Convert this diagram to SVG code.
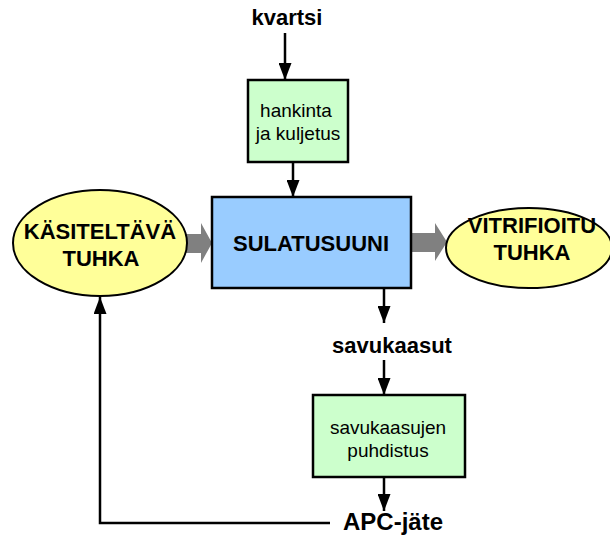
<svg xmlns="http://www.w3.org/2000/svg" width="610" height="535" viewBox="0 0 610 535">
  <style>
    .bold { font-family: "Liberation Sans", Arial, sans-serif; font-weight: bold; fill: #000; text-anchor: middle; }
    .reg { font-family: "Liberation Sans", Arial, sans-serif; font-size: 19px; fill: #000; text-anchor: middle; }
    .ell { fill: #FFFF99; stroke: #000; stroke-width: 2; }
    .green { fill: #CCFFCC; stroke: #000; stroke-width: 2.5; }
    .blue { fill: #99CCFF; stroke: #000; stroke-width: 2.5; }
    .flow { fill: none; stroke: #000; stroke-width: 2.5; marker-end: url(#head); }
    .big { fill: #808080; }
  </style>
  <defs>
    <marker id="head" markerUnits="userSpaceOnUse" viewBox="0 0 17 13" refX="17" refY="6.5" markerWidth="17" markerHeight="13" orient="auto">
      <path d="M0 0 L17 6.5 L0 13 Z" fill="#000"/>
    </marker>
  </defs>

  <!-- connectors -->
  <g id="connectors">
    <line class="flow" x1="285" y1="33" x2="285" y2="80"/>
    <line class="flow" x1="293" y1="162" x2="293" y2="197"/>
    <line class="flow" x1="384" y1="288" x2="384" y2="323"/>
    <line class="flow" x1="384" y1="360" x2="384" y2="395"/>
    <line class="flow" x1="384" y1="477" x2="384" y2="511"/>
    <path class="flow" d="M330 523 H100 V297"/>
    <!-- wide grey material flows -->
    <polygon class="big" points="185,234 201,234 201,223 212,243 201,263 201,253 185,253"/>
    <polygon class="big" points="411,233 435,233 435,223 447,242 435,261 435,252 411,252"/>
  </g>

  <g id="kasiteltava-tuhka">
    <ellipse class="ell" cx="100" cy="243" rx="87" ry="53"/>
    <text class="bold" x="100" y="239" font-size="22">KÄSITELTÄVÄ</text>
    <text class="bold" x="101" y="266" font-size="22">TUHKA</text>
  </g>

  <g id="sulatusuuni">
    <rect class="blue" x="212" y="197" width="199" height="91"/>
    <text class="bold" x="311" y="251" font-size="22">SULATUSUUNI</text>
  </g>

  <g id="vitrifioitu-tuhka">
    <ellipse class="ell" cx="529" cy="248" rx="83" ry="40"/>
    <text class="bold" x="532" y="233" font-size="22">VITRIFIOITU</text>
    <text class="bold" x="532" y="260" font-size="22">TUHKA</text>
  </g>

  <g id="kvartsi">
    <text class="bold" x="287" y="25" font-size="22">kvartsi</text>
  </g>

  <g id="hankinta">
    <rect class="green" x="248" y="80" width="100" height="82"/>
    <text class="reg" x="296" y="117">hankinta</text>
    <text class="reg" x="298" y="140">ja kuljetus</text>
  </g>

  <g id="savukaasut">
    <text class="bold" x="392" y="353" font-size="22">savukaasut</text>
  </g>

  <g id="puhdistus">
    <rect class="green" x="313" y="395" width="152" height="82"/>
    <text class="reg" x="388" y="434">savukaasujen</text>
    <text class="reg" x="388" y="457">puhdistus</text>
  </g>

  <g id="apc-jate">
    <text class="bold" x="393" y="530" font-size="24">APC-jäte</text>
  </g>
</svg>
